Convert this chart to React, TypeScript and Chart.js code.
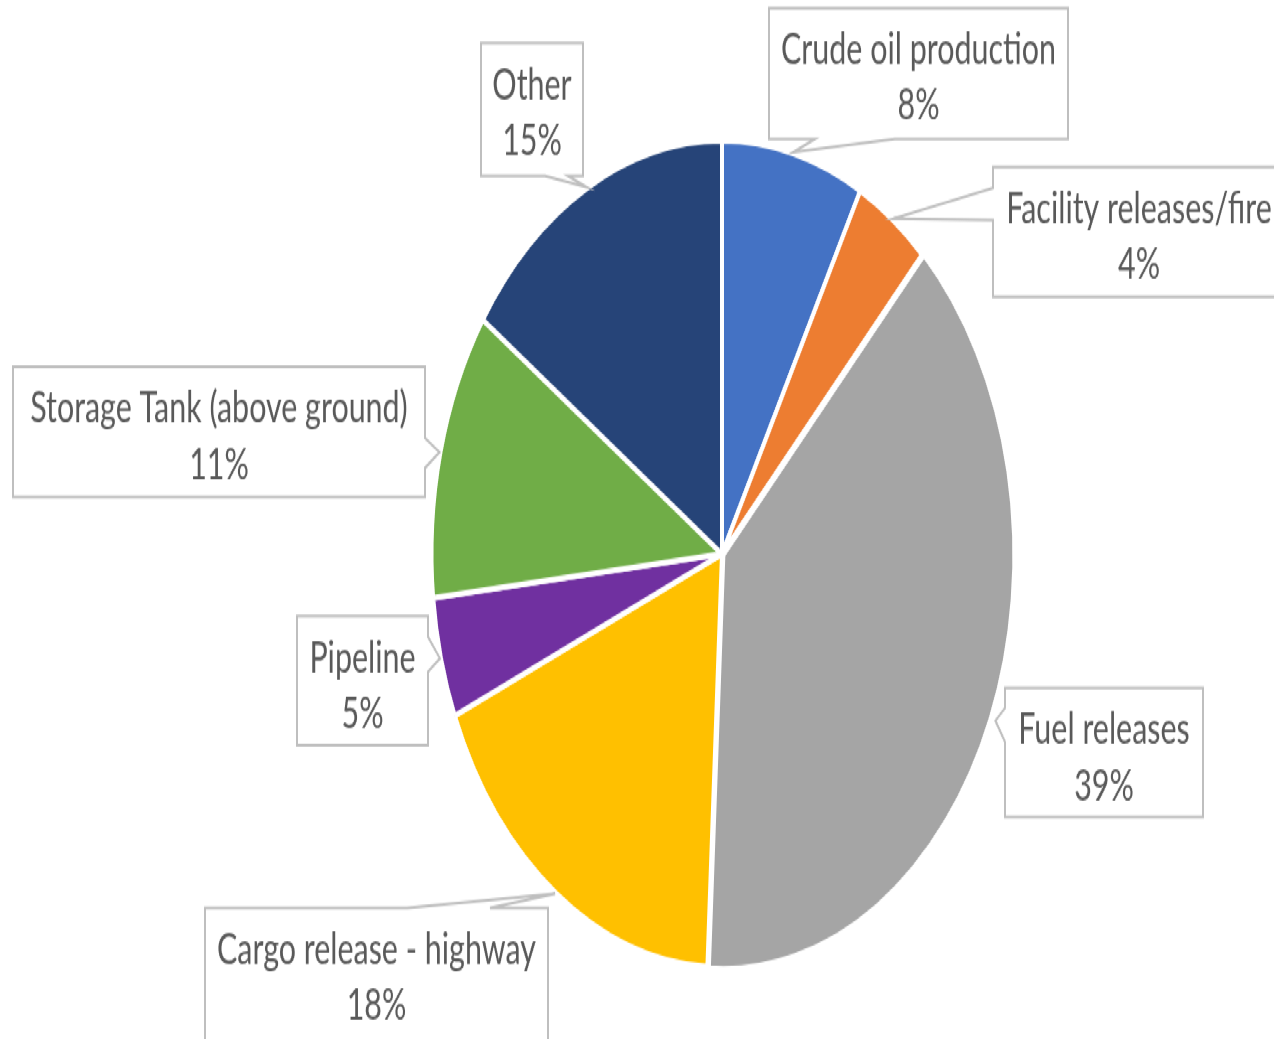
import { useEffect, useRef } from 'react';
import { Chart, registerables } from 'chart.js';

Chart.register(...registerables);

// Vertical stretch of the whole picture (the reference pie is an ellipse)
const S = 1.422;
const W = 1274;
const H = Math.round(1039 / S);

const categories = [
  'Crude oil production',
  'Facility releases/fire',
  'Fuel releases',
  'Cargo release - highway',
  'Pipeline',
  'Storage Tank (above ground)',
  'Other',
];
// shares (labels show them rounded)
const shares = [7.9, 4.2, 38.7, 17.8, 4.7, 11.3, 15.4];
const sliceColors = ['#4472C4', '#ED7D31', '#A5A5A5', '#FFC000', '#7030A0', '#70AD47', '#264478'];
const explode = [0, 0, 6, 0, 0, 0, 0];

// Callout boxes (screen pixels): box corners, edge carrying the pointer, pointer base span
type Callout = { x1: number; y1: number; x2: number; y2: number; edge: 'top' | 'bottom' | 'left' | 'right'; a: number; b: number };
const callouts: Callout[] = [
  { x1: 769, y1: 8, x2: 1068, y2: 139, edge: 'bottom', a: 815, b: 895 },
  { x1: 993, y1: 167, x2: 1285, y2: 297, edge: 'left', a: 188, b: 220 },
  { x1: 1005, y1: 688, x2: 1203, y2: 817, edge: 'left', a: 708, b: 742 },
  { x1: 205, y1: 908, x2: 548, y2: 1045, edge: 'top', a: 407, b: 490 },
  { x1: 297, y1: 616, x2: 428, y2: 745, edge: 'right', a: 637, b: 672 },
  { x1: 13, y1: 367, x2: 425, y2: 497, edge: 'right', a: 438, b: 468 },
  { x1: 481, y1: 43, x2: 583, y2: 176, edge: 'bottom', a: 545, b: 568 },
];

const BORDER = 4;
const CX = 722;
const CY = 554 / S;
const RVIS = 288.5;
const OUTER = RVIS + BORDER / 2;
const AREA = 2 * OUTER + BORDER + Math.max(...explode);

const calloutPlugin = {
  id: 'callouts',
  afterDatasetsDraw(chart: any) {
    const ctx: CanvasRenderingContext2D = chart.ctx;
    const meta = chart.getDatasetMeta(0);
    ctx.save();
    ctx.font = '30px Lato, "Open Sans", sans-serif';
    const cond = 275 / ctx.measureText(categories[0]).width;
    const drawText = (t: string, x: number, y: number) => {
      ctx.save();
      ctx.translate(x, y);
      ctx.scale(cond, 1);
      ctx.fillStyle = '#595959';
      ctx.textAlign = 'center';
      ctx.textBaseline = 'alphabetic';
      ctx.fillText(t, 0, 0);
      ctx.restore();
    };
    meta.data.forEach((arc: any, i: number) => {
      const p = arc.getProps(['x', 'y', 'startAngle', 'endAngle', 'outerRadius'], true);
      const mid = (p.startAngle + p.endAngle) / 2;
      const r = p.outerRadius - BORDER / 2 + 3 + explode[i];
      const tx = p.x + Math.cos(mid) * r;
      const ty = p.y + Math.sin(mid) * r;
      const b = callouts[i];
      const x1 = b.x1, x2 = b.x2, y1 = b.y1 / S, y2 = b.y2 / S;
      ctx.beginPath();
      ctx.moveTo(x1, y1);
      if (b.edge === 'top') { ctx.lineTo(b.a, y1); ctx.lineTo(tx, ty); ctx.lineTo(b.b, y1); }
      ctx.lineTo(x2, y1);
      if (b.edge === 'right') { ctx.lineTo(x2, b.a / S); ctx.lineTo(tx, ty); ctx.lineTo(x2, b.b / S); }
      ctx.lineTo(x2, y2);
      if (b.edge === 'bottom') { ctx.lineTo(b.b, y2); ctx.lineTo(tx, ty); ctx.lineTo(b.a, y2); }
      ctx.lineTo(x1, y2);
      if (b.edge === 'left') { ctx.lineTo(x1, b.b / S); ctx.lineTo(tx, ty); ctx.lineTo(x1, b.a / S); }
      ctx.closePath();
      ctx.fillStyle = '#ffffff';
      ctx.fill();
      ctx.strokeStyle = '#BFBFBF';
      ctx.lineWidth = 2;
      ctx.lineJoin = 'miter';
      ctx.stroke();
      const cx = (x1 + Math.min(x2, 1285)) / 2;
      drawText(categories[i], cx, (b.y1 + 56) / S);
      drawText(`${Math.round(shares[i])}%`, cx, (b.y1 + 112) / S);
    });
    ctx.restore();
  },
};

export default function App() {
  const ref = useRef<HTMLCanvasElement | null>(null);
  useEffect(() => {
    if (!ref.current) return;
    const left = CX - AREA / 2;
    const top = CY - AREA / 2;
    const chart = new Chart(ref.current, {
      type: 'pie',
      data: {
        labels: categories,
        datasets: [
          {
            data: shares,
            backgroundColor: sliceColors,
            borderColor: '#ffffff',
            borderWidth: BORDER,
            hoverBorderWidth: BORDER,
            offset: explode,
            hoverOffset: 0,
          },
        ],
      },
      options: {
        responsive: false,
        animation: false,
        events: [],
        layout: {
          padding: { left, top, right: W - left - AREA, bottom: H - top - AREA },
        },
        plugins: {
          legend: { display: false },
          tooltip: { enabled: false },
          title: { display: false },
        },
      },
      plugins: [calloutPlugin],
    });
    return () => chart.destroy();
  }, []);
  return (
    <div
      style={{
        position: 'absolute',
        left: 0,
        top: 0,
        width: W,
        height: H,
        transform: `scaleY(${S})`,
        transformOrigin: '0 0',
        background: '#ffffff',
      }}
    >
      <canvas ref={ref} width={W} height={H} style={{ width: W, height: H, display: 'block' }} />
    </div>
  );
}
